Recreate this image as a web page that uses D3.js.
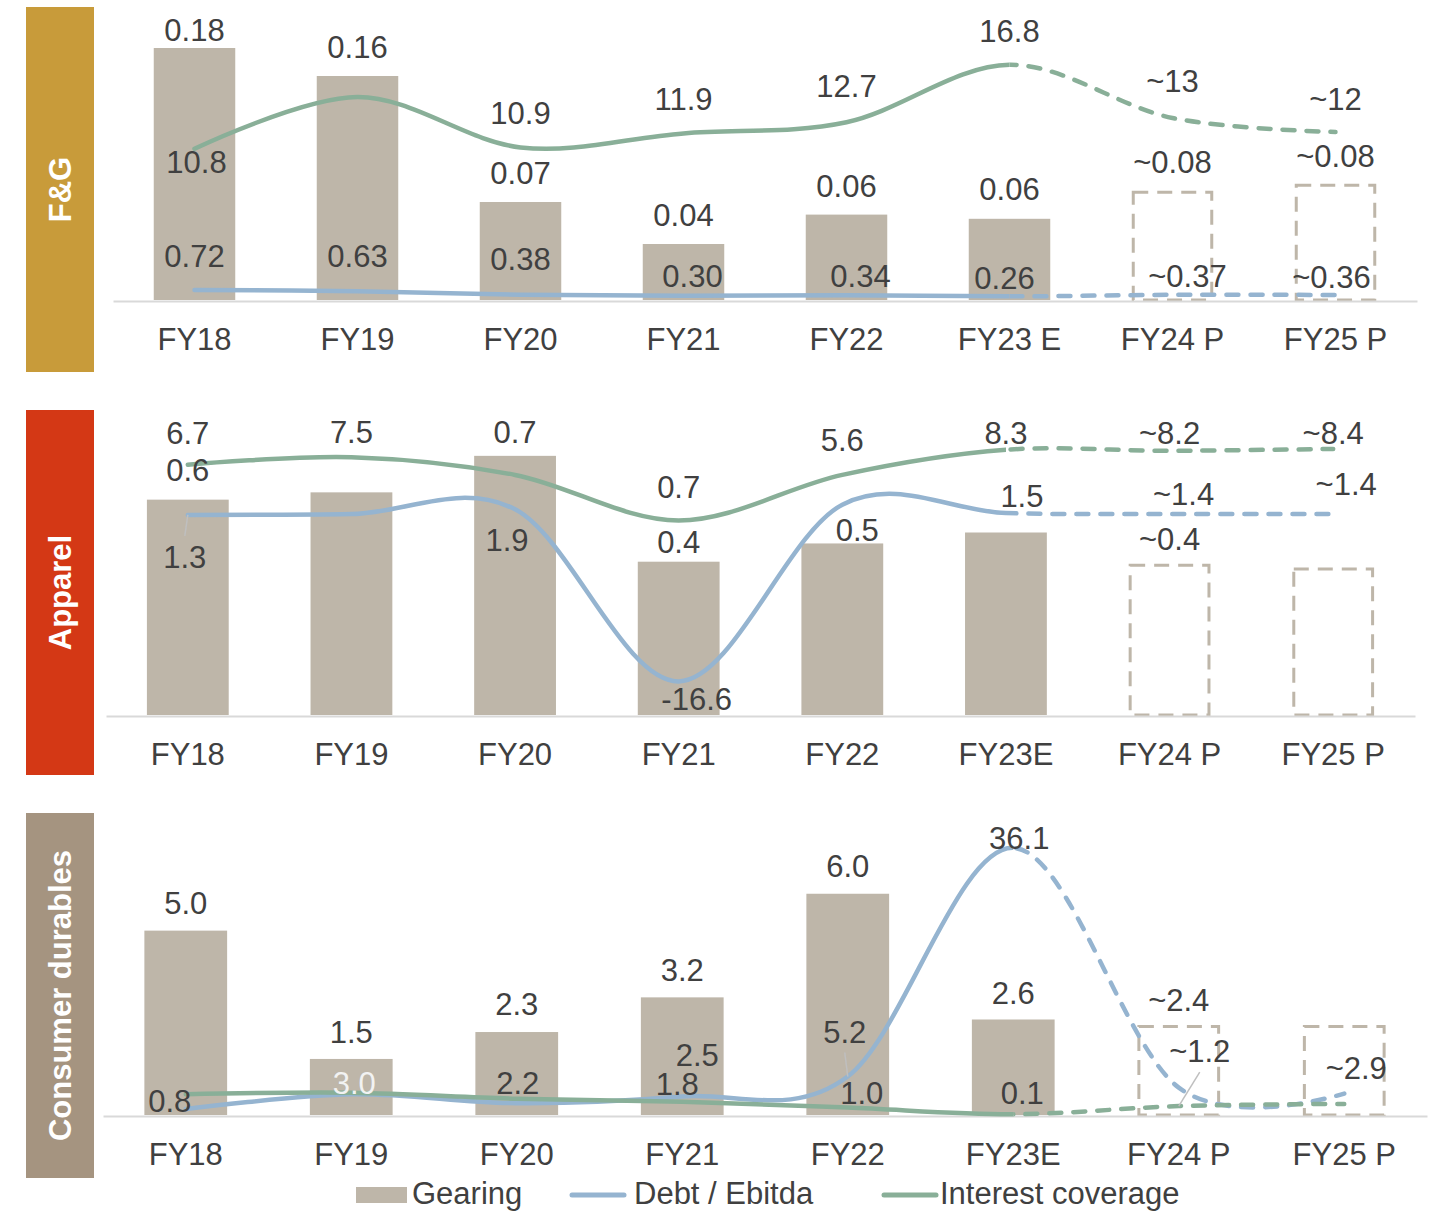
<!DOCTYPE html>
<html><head><meta charset="utf-8">
<script src="https://cdn.jsdelivr.net/npm/d3@7"></script>
<style>
body{margin:0;background:#fff;}
text{font-family:"Liberation Sans", Arial, sans-serif;}
</style></head><body>
<svg id="chart" width="1430" height="1212"></svg>
<script>
// ---------------- DATA ----------------
const fgCategories = ["FY18","FY19","FY20","FY21","FY22","FY23 E","FY24 P","FY25 P"];
const fgGearing = [0.18,0.16,0.07,0.04,0.061,0.058,0.077,0.082];
const fgGearingLabels = ["0.18","0.16","0.07","0.04","0.06","0.06","~0.08","~0.08"];
const fgDebtEbitda = [0.72,0.63,0.38,0.30,0.34,0.26,0.37,0.36];
const fgDebtEbitdaLabels = ["0.72","0.63","0.38","0.30","0.34","0.26","~0.37","~0.36"];
const fgInterestCoverage = [10.8,14.5,10.9,11.9,12.7,16.8,13,12];
const fgInterestCoverageLabels = ["10.8",null,"10.9","11.9","12.7","16.8","~13","~12"];

const apCategories = ["FY18","FY19","FY20","FY21","FY22","FY23E","FY24 P","FY25 P"];
const apGearing = [0.59,0.61,0.71,0.42,0.47,0.50,0.41,0.40];
const apGearingLabels = ["0.6",null,"0.7","0.4","0.5",null,"~0.4",null];
const apDebtEbitda = [1.3,1.4,1.9,-16.6,2.4,1.5,1.4,1.4];
const apDebtEbitdaLabels = ["1.3",null,"1.9","-16.6",null,"1.5","~1.4","~1.4"];
const apInterestCoverage = [6.7,7.5,5.6,0.7,5.6,8.3,8.2,8.4];
const apInterestCoverageLabels = ["6.7","7.5",null,"0.7","5.6","8.3","~8.2","~8.4"];

const cdCategories = ["FY18","FY19","FY20","FY21","FY22","FY23E","FY24 P","FY25 P"];
const cdGearing = [5.0,1.52,2.25,3.19,6.0,2.59,2.4,2.4];
const cdGearingLabels = ["5.0","1.5","2.3","3.2","6.0","2.6","~2.4",null];
const cdDebtEbitda = [0.8,2.8,1.6,2.5,5.2,36.1,3.7,2.9];
const cdDebtEbitdaLabels = ["0.8",null,null,"2.5","5.2","36.1",null,"~2.9"];
const cdInterestCoverage = [2.8,3.0,2.2,1.8,1.0,0.1,1.2,1.5];
const cdInterestCoverageLabels = [null,"3.0","2.2","1.8","1.0","0.1","~1.2",null];

const legendLabels = ["Gearing","Debt / Ebitda","Interest coverage"];
const firstEstimateIndex = 5;   // lines turn dashed from FY23 onwards
const firstProjectionIndex = 6; // bars become outlined boxes

// ---------------- LAYOUT / STYLE ----------------
const COL = {bar:"#BEB6A9", blue:"#95B4D0", green:"#89AF98", text:"#404040", axis:"#D9D9D9", leader:"#BFBFBF"};
const FS = 31;

const panels = [
  {key:"fg", title:"F&G", color:"#C89B3A", boxTop:7, base:300, xRange:[113,1417],
   priDomain:[0,0.2], priRange:[300,20], secDomain:[0,20], secRange:[300,20],
   categories:fgCategories, gearing:fgGearing, de:fgDebtEbitda, ic:fgInterestCoverage,
   gearingLabels:fgGearingLabels, deLabels:fgDebtEbitdaLabels, icLabels:fgInterestCoverageLabels,
   gOff:[[0,-18],[0,-29],[0,-29],[0,-29],[0,-29],[0,-30],[0,-30],[0,-29]],
   deOff:[[0,-34],[0,-35],[0,-36],[9,-20],[14,-19],[-5,-19],[15,-19],[-4,-18]],
   icOff:[[2,13],null,[0,-35],[0,-35],[0,-36],[0,-34],[0,-37],[0,-33]],
   leaders:{}},
  {key:"ap", title:"Apparel", color:"#D43815", boxTop:410, base:715, xRange:[106,1415],
   priDomain:[0,0.8], priRange:[715,423], secDomain:[-20,10], secRange:[713,434],
   categories:apCategories, gearing:apGearing, de:apDebtEbitda, ic:apInterestCoverage,
   gearingLabels:apGearingLabels, deLabels:apDebtEbitdaLabels, icLabels:apInterestCoverageLabels,
   gOff:[[0,-30],null,[0,-24],[0,-20],[15,-14],null,[0,-27],null],
   deOff:[[-3,42],null,[-8,31],[18,17],null,[16,-17],[14,-20],[13,-30]],
   icOff:[[0,-32],[0,-25],null,[0,-34],[0,-35],[0,-17],[0,-18],[0,-16]],
   leaders:{de:[0]}},
  {key:"cd", title:"Consumer durables", color:"#A59480", boxTop:813, base:1115, xRange:[103,1427],
   priDomain:[0,8], priRange:[1115,820], secDomain:[0,40], secRange:[1115,819],
   categories:cdCategories, gearing:cdGearing, de:cdDebtEbitda, ic:cdInterestCoverage,
   gearingLabels:cdGearingLabels, deLabels:cdDebtEbitdaLabels, icLabels:cdInterestCoverageLabels,
   gOff:[[0,-28],[0,-27],[0,-28],[0,-28],[0,-28],[0,-27],[0,-27],null],
   deOff:[[-16,-8],null,null,[15,-42],[-3,-45],[6,-10],null,[12,-26]],
   icOff:[null,[3,-10],[1,-16],[-5,-18],[14,-15],[9,-21],[21,-55],null],
   icColors:{1:"#F2F2F2"},
   leaders:{de:[4], ic:[6]}}
];

const svg = d3.select("#chart");
const defs = svg.append("defs");

panels.forEach(p => {
  const g = svg.append("g");
  // side title box
  g.append("rect").attr("x",26).attr("y",p.boxTop).attr("width",68).attr("height",365).attr("fill",p.color);
  g.append("text")
    .attr("transform",`translate(60,${p.boxTop+182.5}) rotate(-90)`)
    .attr("text-anchor","middle").attr("dy","0.36em")
    .attr("fill","#fff").attr("font-weight","bold").attr("font-size",FS).text(p.title);

  const x = d3.scaleBand().domain(p.categories).range(p.xRange).paddingInner(0.5).paddingOuter(0.25);
  const yP = d3.scaleLinear().domain(p.priDomain).range(p.priRange);
  const yS = d3.scaleLinear().domain(p.secDomain).range(p.secRange);
  const cx = i => x(p.categories[i]) + x.bandwidth()/2;

  // bars
  const idx = d3.range(p.categories.length);
  g.selectAll("rect.bar").data(idx.filter(i => i < firstProjectionIndex)).join("rect")
    .attr("x", i => x(p.categories[i])).attr("width", x.bandwidth())
    .attr("y", i => yP(p.gearing[i])).attr("height", i => yP(0) - yP(p.gearing[i]))
    .attr("fill", COL.bar);
  g.selectAll("rect.proj").data(idx.filter(i => i >= firstProjectionIndex)).join("rect")
    .attr("x", i => x(p.categories[i]) + 1.5).attr("width", x.bandwidth() - 3)
    .attr("y", i => yP(p.gearing[i])).attr("height", i => yP(0) - yP(p.gearing[i]))
    .attr("fill","none").attr("stroke",COL.bar).attr("stroke-width",3).attr("stroke-dasharray","15 9");

  // axis
  const axis = d3.axisBottom(x).tickSize(0).tickSizeOuter(0).tickPadding(27);
  const ag = g.append("g").attr("transform",`translate(0,${yP(0)+1})`).call(axis);
  ag.select(".domain").attr("stroke",COL.axis).attr("stroke-width",2);
  ag.selectAll("text").attr("font-size",FS).attr("fill",COL.text).attr("font-family","Liberation Sans, Arial, sans-serif");

  // lines (solid up to the estimate year, dashed after)
  const splitX = cx(firstEstimateIndex);
  const solidId = `clipSolid_${p.key}`, dashId = `clipDash_${p.key}`;
  defs.append("clipPath").attr("id",solidId).append("rect")
    .attr("x",0).attr("y",p.boxTop-10).attr("width",splitX).attr("height",400);
  defs.append("clipPath").attr("id",dashId).append("rect")
    .attr("x",splitX).attr("y",p.boxTop-10).attr("width",1430-splitX).attr("height",400);

  const line = d3.line().x((d,i)=>cx(i)).y(d=>yS(d)).curve(d3.curveCardinal.tension(0));
  [[p.de,COL.blue],[p.ic,COL.green]].forEach(([vals,color]) => {
    g.append("path").attr("d",line(vals)).attr("fill","none").attr("stroke",color)
      .attr("stroke-width",4.5).attr("stroke-linecap","round").attr("clip-path",`url(#${solidId})`);
    g.append("path").attr("d",line(vals)).attr("fill","none").attr("stroke",color)
      .attr("stroke-width",4.5).attr("stroke-linecap","round").attr("stroke-dasharray","12 12")
      .attr("clip-path",`url(#${dashId})`);
  });

  // labels
  function labels(texts, offs, ax, ay, leaderIdx, colors){
    texts.forEach((t,i) => {
      if(t == null || !offs[i]) return;
      const lx = ax(i) + offs[i][0], ly = ay(i) + offs[i][1];
      if(leaderIdx && leaderIdx.includes(i)){
        const s = offs[i][1] > 0 ? -1 : 1;
        g.append("line").attr("x1",lx).attr("y1",ly + s*21).attr("x2",ax(i)).attr("y2",ay(i))
          .attr("stroke",COL.leader).attr("stroke-width",1.5);
      }
      g.append("text").attr("x",lx).attr("y",ly).attr("dy","0.36em").attr("text-anchor","middle")
        .attr("font-size",FS).attr("fill",(colors && colors[i]) || COL.text).text(t);
    });
  }
  labels(p.gearingLabels, p.gOff, cx, i => yP(p.gearing[i]), null, null);
  labels(p.deLabels, p.deOff, cx, i => yS(p.de[i]), p.leaders.de, null);
  labels(p.icLabels, p.icOff, cx, i => yS(p.ic[i]), p.leaders.ic, p.icColors);
});

// legend
const lg = svg.append("g").attr("transform","translate(0,1193)");
lg.append("rect").attr("x",356).attr("y",-6).attr("width",51).attr("height",16).attr("fill",COL.bar);
lg.append("text").attr("x",412).attr("dy","0.36em").attr("font-size",FS).attr("fill",COL.text).text(legendLabels[0]);
lg.append("line").attr("x1",572).attr("x2",624).attr("y1",2).attr("y2",2).attr("stroke",COL.blue).attr("stroke-width",5).attr("stroke-linecap","round");
lg.append("text").attr("x",634).attr("dy","0.36em").attr("font-size",FS).attr("fill",COL.text).text(legendLabels[1]);
lg.append("line").attr("x1",884).attr("x2",936).attr("y1",2).attr("y2",2).attr("stroke",COL.green).attr("stroke-width",5).attr("stroke-linecap","round");
lg.append("text").attr("x",940).attr("dy","0.36em").attr("font-size",FS).attr("fill",COL.text).text(legendLabels[2]);
</script>
</body></html>
